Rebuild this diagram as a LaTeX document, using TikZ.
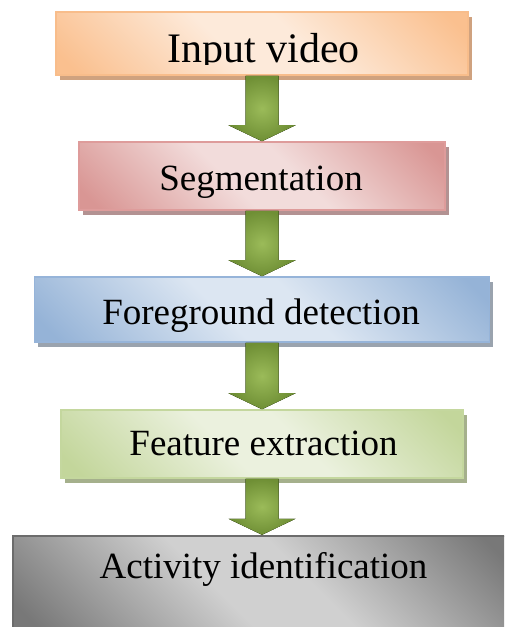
\documentclass[tikz,border=0pt]{standalone}
\usepackage{fontspec}
\setmainfont{Liberation Serif}
\usetikzlibrary{calc,shadows}

% stage colours: D = deep tone, L = light tone, E = edge, S = shadow
\definecolor{peachD}{HTML}{FAC08F}
\definecolor{peachL}{HTML}{FDEADA}
\definecolor{peachE}{HTML}{F8BD8B}
\definecolor{peachS}{HTML}{CFA27F}
\definecolor{roseD}{HTML}{D99694}
\definecolor{roseL}{HTML}{F2DCDB}
\definecolor{roseE}{HTML}{DE9C9B}
\definecolor{roseS}{HTML}{B39292}
\definecolor{skyD}{HTML}{95B3D7}
\definecolor{skyL}{HTML}{DCE6F2}
\definecolor{skyE}{HTML}{96B4D9}
\definecolor{skyS}{HTML}{9AA3AE}
\definecolor{leafD}{HTML}{C3D69B}
\definecolor{leafL}{HTML}{EBF1DE}
\definecolor{leafE}{HTML}{C4D79E}
\definecolor{leafS}{HTML}{A5B08C}
\definecolor{greyD}{HTML}{787878}
\definecolor{greyL}{HTML}{D0D0D0}
\definecolor{greyE}{HTML}{6C6C6C}
\definecolor{arrowL}{HTML}{9BBB59}
\definecolor{arrowD}{HTML}{6F8F35}
\definecolor{arrowS}{HTML}{4F6A22}

% diagonal band: deep corners, light middle
\newcommand\bandshading[3]{%
  \pgfdeclarehorizontalshading{#1}{100bp}{color(0bp)=(#2); color(18bp)=(#2);
    color(44bp)=(#3); color(56bp)=(#3); color(82bp)=(#2); color(100bp)=(#2)}}
\bandshading{peachband}{peachD}{peachL}
\bandshading{roseband}{roseD}{roseL}
\bandshading{skyband}{skyD}{skyL}
\bandshading{leafband}{leafD}{leafL}
\bandshading{greyband}{greyD}{greyL}

\tikzset{
  stage/.style={rectangle, inner sep=0pt, line width=1.6pt,
    shading=#1band, shading angle=45, draw=#1E},
  stageshadow/.style={drop shadow={shadow xshift=3.5pt, shadow yshift=-5pt,
    fill=#1S, opacity=1}},
  stagetext/.style={inner sep=0pt, anchor=base, font=\fontsize{37}{44}\selectfont},
  arrowbody/.style={inner color=arrowL, outer color=arrowD},
  arrowshadow/.style={fill=arrowS, xshift=3pt, yshift=-3pt},
}

% block arrow from the bottom of one stage to the top of the next
\newcommand\flowarrow[3]{%
  \fill[#3] let \p1=(#1.south), \p2=(#2.north) in
    (\x1-16.5pt,\y1) -- (\x1+16.5pt,\y1) -- (\x1+16.5pt,\y2+16pt)
    -- (\x1+33.5pt,\y2+16pt) -- (\x1,\y2) -- (\x1-33.5pt,\y2+16pt)
    -- (\x1-16.5pt,\y2+16pt) -- cycle;}

\begin{document}
\begin{tikzpicture}[x=1pt,y=-1pt]
  \useasboundingbox (0,0) rectangle (504,627);
  \clip (0,0) rectangle (504,627);

  % stages
  \node[stage=peach, stageshadow=peach, minimum width=412pt, minimum height=63pt]
    (input) at (262,43.5) {};
  \node[stage=rose, stageshadow=rose, minimum width=366pt, minimum height=68pt]
    (seg) at (262,176) {};
  \node[stage=sky, stageshadow=sky, minimum width=455pt, minimum height=65pt]
    (fg) at (262,309.5) {};
  \node[stage=leaf, stageshadow=leaf, minimum width=402pt, minimum height=68pt]
    (feat) at (262,444) {};
  \node[stage=grey, line width=2.5pt, minimum width=498pt, minimum height=96pt]
    (act) at (262,584) {};

  % stage captions
  \begin{scope}
    \clip (0,0) rectangle (504,64);
    \node[stagetext, font=\fontsize{42}{48}\selectfont] (inputT) at (263.5,62) {Input video};
  \end{scope}
  \node[stagetext] (segT) at (261,190) {Segmentation};
  \node[stagetext] (fgT) at (261,324) {Foreground detection};
  \node[stagetext] (featT) at (263.5,455) {Feature extraction};
  \node[stagetext] (actT) at (263.5,578) {Activity identification};

  % connectors
  \foreach \a/\b in {input/seg, seg/fg, fg/feat, feat/act} {
    \flowarrow{\a}{\b}{arrowshadow}
    \flowarrow{\a}{\b}{arrowbody}
  }
\end{tikzpicture}
\end{document}
